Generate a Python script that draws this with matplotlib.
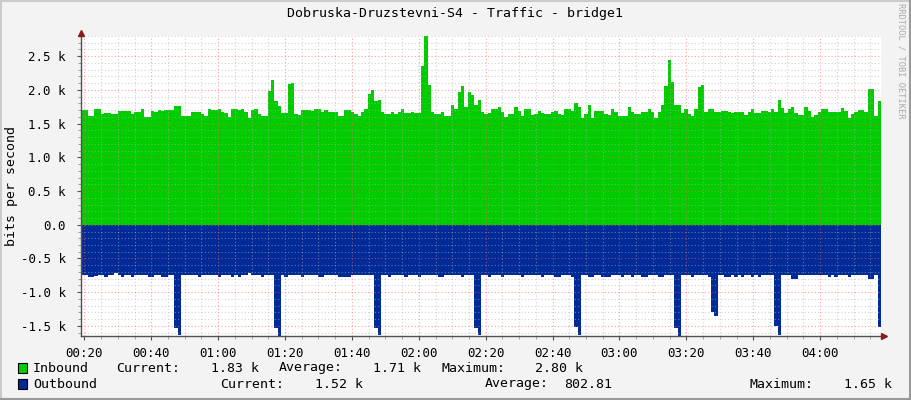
import numpy as np
import matplotlib
matplotlib.use("Agg")
import matplotlib.pyplot as plt
from matplotlib.ticker import MultipleLocator, FuncFormatter
from matplotlib.patches import Rectangle
from matplotlib.lines import Line2D

# time window (minutes after midnight), one sample per pixel column group
T_START = 19.0
T_END = 258.2

# inbound traffic, k bits/s, one value per sample
inbound = [
    1.70, 1.70, 1.62, 1.62, 1.72, 1.72, 1.64, 1.66, 1.66, 1.64, 1.64, 1.69, 1.69, 1.69, 1.69, 1.64, 1.67, 1.67, 1.71, 1.60,
    1.60, 1.69, 1.67, 1.70, 1.69, 1.70, 1.70, 1.70, 1.76, 1.76, 1.62, 1.62, 1.61, 1.68, 1.68, 1.68, 1.64, 1.61, 1.72, 1.70,
    1.70, 1.72, 1.68, 1.66, 1.60, 1.71, 1.71, 1.70, 1.71, 1.68, 1.58, 1.70, 1.72, 1.64, 1.61, 1.61, 1.99, 2.15, 1.83, 1.76,
    1.66, 1.66, 2.09, 2.10, 1.64, 1.63, 1.70, 1.70, 1.70, 1.69, 1.71, 1.72, 1.68, 1.70, 1.67, 1.67, 1.67, 1.61, 1.62, 1.70,
    1.70, 1.67, 1.65, 1.62, 1.68, 1.71, 1.94, 2.00, 1.83, 1.85, 1.68, 1.65, 1.65, 1.68, 1.65, 1.68, 1.72, 1.66, 1.66, 1.68,
    1.66, 1.66, 2.36, 2.80, 2.08, 1.68, 1.65, 1.65, 1.68, 1.62, 1.62, 1.78, 1.72, 1.97, 2.06, 1.74, 1.97, 1.93, 1.77, 1.85,
    1.68, 1.65, 1.66, 1.71, 1.71, 1.74, 1.68, 1.60, 1.65, 1.65, 1.74, 1.69, 1.61, 1.72, 1.71, 1.63, 1.65, 1.69, 1.66, 1.65,
    1.65, 1.68, 1.69, 1.65, 1.63, 1.71, 1.71, 1.69, 1.80, 1.74, 1.59, 1.65, 1.78, 1.59, 1.69, 1.69, 1.69, 1.65, 1.63, 1.72,
    1.67, 1.61, 1.61, 1.62, 1.75, 1.68, 1.65, 1.65, 1.67, 1.67, 1.71, 1.68, 1.58, 1.68, 1.78, 2.06, 2.45, 2.12, 1.77, 1.77,
    1.66, 1.71, 1.65, 1.62, 1.71, 2.04, 2.08, 1.68, 1.71, 1.72, 1.67, 1.67, 1.69, 1.69, 1.68, 1.66, 1.68, 1.68, 1.67, 1.63,
    1.67, 1.71, 1.66, 1.66, 1.69, 1.69, 1.68, 1.71, 1.67, 1.85, 1.73, 1.66, 1.71, 1.75, 1.66, 1.63, 1.63, 1.75, 1.69, 1.60,
    1.63, 1.67, 1.71, 1.71, 1.67, 1.67, 1.68, 1.68, 1.73, 1.69, 1.59, 1.65, 1.68, 1.70, 1.70, 1.68, 2.02, 2.02, 1.62, 1.83,
]

# outbound traffic, k bits/s (drawn below zero)
outbound = [
    0.74, 0.74, 0.77, 0.77, 0.76, 0.74, 0.74, 0.77, 0.74, 0.74, 0.72, 0.74, 0.77, 0.74, 0.74, 0.77, 0.74, 0.74, 0.74, 0.74,
    0.77, 0.77, 0.74, 0.74, 0.77, 0.77, 0.74, 0.74, 1.53, 1.63, 0.74, 0.74, 0.74, 0.74, 0.74, 0.77, 0.74, 0.74, 0.74, 0.74,
    0.74, 0.77, 0.74, 0.74, 0.74, 0.77, 0.74, 0.77, 0.74, 0.74, 0.72, 0.74, 0.74, 0.74, 0.77, 0.74, 0.74, 0.74, 1.53, 1.65,
    0.74, 0.77, 0.74, 0.74, 0.74, 0.74, 0.77, 0.74, 0.74, 0.74, 0.74, 0.77, 0.77, 0.74, 0.74, 0.74, 0.74, 0.77, 0.77, 0.77,
    0.77, 0.74, 0.74, 0.74, 0.74, 0.74, 0.74, 0.74, 1.53, 1.64, 0.74, 0.74, 0.77, 0.74, 0.74, 0.74, 0.74, 0.77, 0.74, 0.74,
    0.74, 0.77, 0.74, 0.74, 0.74, 0.74, 0.74, 0.77, 0.77, 0.74, 0.74, 0.74, 0.74, 0.74, 0.77, 0.74, 0.74, 0.74, 1.53, 1.64,
    0.74, 0.74, 0.77, 0.74, 0.74, 0.74, 0.77, 0.74, 0.74, 0.74, 0.74, 0.74, 0.77, 0.74, 0.74, 0.74, 0.74, 0.74, 0.77, 0.74,
    0.74, 0.74, 0.77, 0.77, 0.74, 0.74, 0.74, 0.77, 1.52, 1.63, 0.74, 0.74, 0.77, 0.77, 0.74, 0.74, 0.77, 0.77, 0.77, 0.74,
    0.74, 0.74, 0.77, 0.74, 0.74, 0.77, 0.74, 0.74, 0.77, 0.77, 0.74, 0.74, 0.74, 0.77, 0.77, 0.74, 0.74, 0.74, 1.53, 1.65,
    0.74, 0.74, 0.74, 0.77, 0.74, 0.74, 0.74, 0.74, 0.77, 1.29, 1.36, 0.74, 0.74, 0.77, 0.77, 0.74, 0.77, 0.74, 0.77, 0.74,
    0.74, 0.77, 0.74, 0.77, 0.74, 0.74, 0.74, 0.74, 1.50, 1.63, 0.74, 0.74, 0.74, 0.80, 0.80, 0.74, 0.74, 0.74, 0.74, 0.74,
    0.74, 0.74, 0.74, 0.74, 0.77, 0.74, 0.77, 0.74, 0.74, 0.74, 0.77, 0.74, 0.74, 0.74, 0.74, 0.74, 0.80, 0.80, 0.74, 1.52,
]

title = "Dobruska-Druzstevni-S4 - Traffic - bridge1"
legend_in = ["Inbound", "Current:", "1.83 k", "Average:", "1.71 k", "Maximum:", "2.80 k"]
legend_out = ["Outbound", "Current:", "1.52 k", "Average:", "802.81", "Maximum:", "1.65 k"]

GREEN = "#00CC00"
BLUE = "#002A97"
MONO = "DejaVu Sans Mono"

W, H = 911, 400
fig = plt.figure(figsize=(W / 100, H / 100), dpi=100, facecolor="#F3F3F3")
ax = fig.add_axes([81 / W, 64 / H, 800 / W, 300 / H])
ax.set_facecolor("white")

n = len(inbound)
edges = np.linspace(T_START, T_END, n + 1)
inb = np.append(inbound, inbound[-1])
outb = -np.append(outbound, outbound[-1])
ax.fill_between(edges, 0, inb, step="post", color=GREEN, lw=0, zorder=1)
ax.fill_between(edges, 0, outb, step="post", color=BLUE, lw=0, zorder=1)

ax.set_xlim(T_START, T_END)
ax.set_ylim(-1.65, 2.80)

ax.xaxis.set_major_locator(MultipleLocator(20))
ax.xaxis.set_minor_locator(MultipleLocator(5))
ax.yaxis.set_major_locator(MultipleLocator(0.5))
ax.yaxis.set_minor_locator(MultipleLocator(0.1))
ax.xaxis.set_major_formatter(FuncFormatter(lambda v, p: "%02d:%02d" % (int(round(v)) // 60, int(round(v)) % 60)))
ax.yaxis.set_major_formatter(FuncFormatter(lambda v, p: "0.0" if abs(v) < 1e-9 else "%.1f k" % v))

ax.grid(which="minor", color="#B0B0B0", alpha=0.55, linestyle=(0, (1, 2)), linewidth=0.8, zorder=2)
ax.grid(which="major", color="#FF6060", alpha=0.6, linestyle=(0, (1, 2)), linewidth=0.8, zorder=2)
ax.set_axisbelow(False)

for s in ["top", "right"]:
    ax.spines[s].set_visible(False)
for s in ["left", "bottom"]:
    ax.spines[s].set_color("#505050")
    ax.spines[s].set_linewidth(1.0)
    ax.spines[s].set_zorder(3)

ax.tick_params(which="major", length=3, color="#505050", labelsize=9, pad=5)
ax.tick_params(which="minor", length=2, color="#909090")
ax.tick_params(axis="y", pad=8)
for lab in ax.get_xticklabels() + ax.get_yticklabels():
    lab.set_family(MONO)

# arrows on axis ends
ax.plot([0], [1.01], marker="^", color="#8B1A1A", markersize=4, transform=ax.transAxes, clip_on=False, zorder=4)
ax.plot([1.004], [0], marker=">", color="#8B1A1A", markersize=4, transform=ax.transAxes, clip_on=False, zorder=4)

fig.text(12 / W, 1 - 186 / H, "bits per second", family=MONO, fontsize=9.5,
         rotation=90, ha="center", va="center")

fig.text(455 / W, 1 - 14 / H, title, family=MONO, fontsize=9.5, ha="center", va="center")
fig.text(901 / W, 1 - 61 / H, "RRDTOOL / TOBI OETIKER", family=MONO, fontsize=6.2,
         color="#AAAAAA", rotation=270, ha="center", va="center")

# legend rows
def legend_row(y, color, items, xs, aligns):
    fig.add_artist(Rectangle((18 / W, 1 - (y + 5) / H), 9 / W, 10 / H, transform=fig.transFigure,
                             facecolor=color, edgecolor="black", lw=0.8))
    for txt, x, a in zip(items, xs, aligns):
        fig.text(x / W, 1 - y / H, txt, family=MONO, fontsize=9.5, ha=a, va="center")

aligns = ["left", "left", "right", "left", "right", "left", "right"]
legend_row(368, GREEN, legend_in, [33, 116, 259, 279, 421, 441, 583], aligns)
legend_row(384, BLUE, legend_out, [33, 220, 363, 485, 612, 750, 892], aligns)

# frame around the image
fig.add_artist(Line2D([0, 1], [1 - 0.5 / H, 1 - 0.5 / H], transform=fig.transFigure, color="#CBCBCB", lw=1.5))
fig.add_artist(Line2D([0.5 / W, 0.5 / W], [0, 1], transform=fig.transFigure, color="#CBCBCB", lw=1.5))
fig.add_artist(Line2D([0, 1], [1 / H, 1 / H], transform=fig.transFigure, color="#999999", lw=1.5))
fig.add_artist(Line2D([1 - 1 / W, 1 - 1 / W], [0, 1], transform=fig.transFigure, color="#999999", lw=1.5))

fig.savefig("out.png", dpi=100, facecolor=fig.get_facecolor())
plt.close(fig)
